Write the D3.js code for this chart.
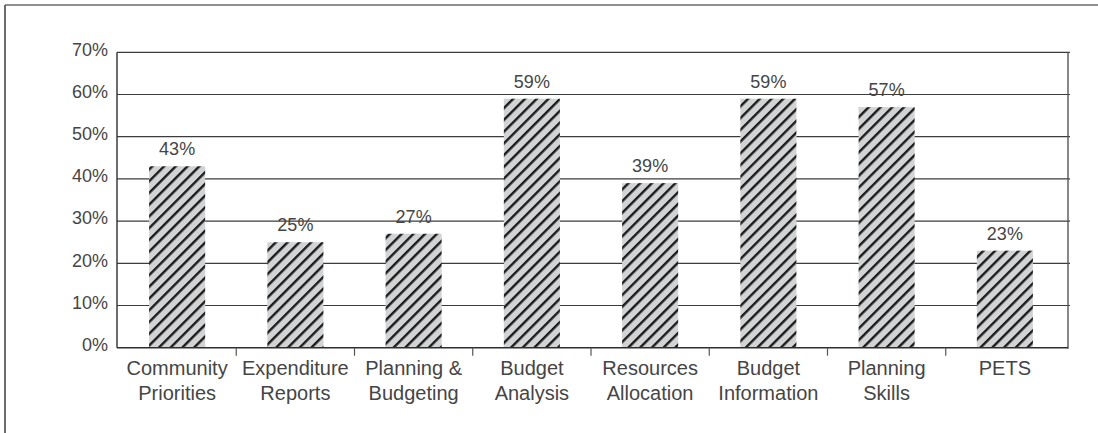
<!DOCTYPE html>
<html>
<head>
<meta charset="utf-8">
<script src="https://cdn.jsdelivr.net/npm/d3@7/dist/d3.min.js"></script>
<style>
  html, body { margin: 0; padding: 0; background: #fff; }
  svg { display: block; font-family: "Liberation Sans", Arial, Helvetica, sans-serif; }
</style>
</head>
<body>
<svg id="chart" width="1098" height="433"></svg>
<script>
// Share of respondents per training topic
const categories = [
  ["Community", "Priorities"],
  ["Expenditure", "Reports"],
  ["Planning &", "Budgeting"],
  ["Budget", "Analysis"],
  ["Resources", "Allocation"],
  ["Budget", "Information"],
  ["Planning", "Skills"],
  ["PETS"]
];
const values = [43, 25, 27, 59, 39, 59, 57, 23];
const yTicks = [0, 10, 20, 30, 40, 50, 60, 70];

const svg = d3.select("#chart");
const W = 1098, H = 433;
const plot = { left: 117, right: 1068, top: 52.3, bottom: 347.7 };
const textColor = "#454545";

// Hatched fill for the bars
const defs = svg.append("defs");
const pat = defs.append("pattern")
  .attr("id", "hatch")
  .attr("patternUnits", "userSpaceOnUse")
  .attr("width", 8.3)
  .attr("height", 10)
  .attr("patternTransform", "rotate(45)");
pat.append("rect").attr("width", 8.3).attr("height", 10).attr("fill", "#d2d3d5");
pat.append("rect").attr("x", 0).attr("width", 2.4).attr("height", 10).attr("fill", "#1b1b1b");

// Outer frame (top and left edges)
svg.append("line").attr("x1", 5).attr("y1", 5).attr("x2", W).attr("y2", 5)
  .attr("stroke", "#6b6b6b").attr("stroke-width", 1.6);
svg.append("line").attr("x1", 5).attr("y1", 5).attr("x2", 5).attr("y2", H)
  .attr("stroke", "#6b6b6b").attr("stroke-width", 2);

const keys = categories.map(c => c.join(" "));
const x = d3.scaleBand()
  .domain(keys)
  .range([118, 1064])
  .paddingInner(0.526)
  .paddingOuter(0.263);
const y = d3.scaleLinear().domain([0, 70]).range([plot.bottom, plot.top]);

// Gridlines
svg.append("g").selectAll("line")
  .data(yTicks.filter(t => t > 0))
  .join("line")
  .attr("x1", plot.left).attr("x2", plot.right + 2)
  .attr("y1", d => y(d)).attr("y2", d => y(d))
  .attr("stroke", "#3c3c3c").attr("stroke-width", 1.2);

// Y tick labels
svg.append("g").selectAll("text")
  .data(yTicks)
  .join("text")
  .attr("x", 108)
  .attr("y", d => y(d) - 3)
  .attr("dy", "0.35em")
  .attr("text-anchor", "end")
  .attr("font-size", 18)
  .attr("fill", textColor)
  .text(d => d + "%");

// Bars
svg.append("g").selectAll("rect")
  .data(values)
  .join("rect")
  .attr("x", (d, i) => x(keys[i]))
  .attr("width", x.bandwidth())
  .attr("y", d => y(d))
  .attr("height", d => y(0) - y(d))
  .attr("fill", "url(#hatch)");

// Value labels
svg.append("g").selectAll("text")
  .data(values)
  .join("text")
  .attr("x", (d, i) => x(keys[i]) + x.bandwidth() / 2)
  .attr("y", d => y(d) - 11)
  .attr("text-anchor", "middle")
  .attr("font-size", 18)
  .attr("fill", textColor)
  .text(d => d + "%");

// Axes frame: left, right, bottom
svg.append("line").attr("x1", plot.left).attr("x2", plot.left)
  .attr("y1", plot.top).attr("y2", plot.bottom)
  .attr("stroke", "#2e2e2e").attr("stroke-width", 1.4);
svg.append("line").attr("x1", plot.right).attr("x2", plot.right)
  .attr("y1", plot.top).attr("y2", plot.bottom + 1)
  .attr("stroke", "#555").attr("stroke-width", 1.4);
svg.append("line").attr("x1", plot.left).attr("x2", plot.right)
  .attr("y1", plot.bottom).attr("y2", plot.bottom)
  .attr("stroke", "#2e2e2e").attr("stroke-width", 1.6);

// Category separators below the axis
const gap = x.step() * x.paddingInner();
svg.append("g").selectAll("line")
  .data(keys.slice(1))
  .join("line")
  .attr("x1", d => x(d) - gap / 2).attr("x2", d => x(d) - gap / 2)
  .attr("y1", plot.bottom).attr("y2", plot.bottom + 8)
  .attr("stroke", "#555").attr("stroke-width", 1.2);

// Category labels
const lab = svg.append("g").selectAll("text")
  .data(categories)
  .join("text")
  .attr("text-anchor", "middle")
  .attr("font-size", 20)
  .attr("fill", textColor);
lab.each(function(lines, i) {
  const cx = x(keys[i]) + x.bandwidth() / 2;
  d3.select(this).selectAll("tspan")
    .data(lines)
    .join("tspan")
    .attr("x", cx)
    .attr("y", (d, j) => 375 + j * 25)
    .text(d => d);
});
</script>
</body>
</html>
